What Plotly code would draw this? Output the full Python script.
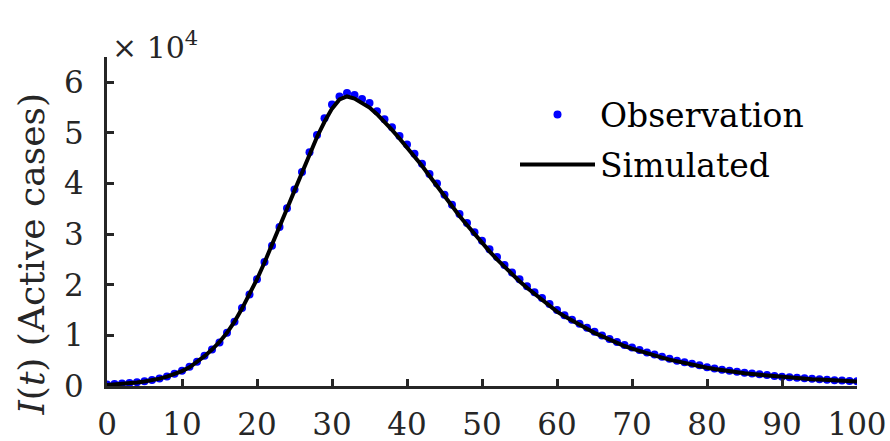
import plotly.graph_objects as go

days = list(range(0, 101))

observed = [
    300, 400, 500, 600, 750, 950, 1200, 1500, 1900, 2400,
    3000, 3800, 4800, 6000, 7200, 8600, 10500, 12700, 15400, 18100,
    21100, 24500, 27700, 31400, 35100, 38800, 42300, 46200, 49600, 52900,
    55600, 57200, 57900, 57500, 56700, 55900, 54300, 52700, 51100, 49400,
    47700, 45900, 43900, 41900, 40000, 37800, 35800, 34000, 32200, 30400,
    28700, 27000, 25500, 23900, 22400, 21100, 19700, 18500, 17400, 16200,
    15000, 14000, 13100, 12300, 11500, 10700, 10000, 9300, 8700, 8100,
    7600, 7100, 6600, 6200, 5800, 5400, 5000, 4700, 4400, 4100,
    3700, 3450, 3200, 3000, 2800, 2600, 2450, 2300, 2150, 2000,
    1850, 1730, 1620, 1520, 1420, 1330, 1240, 1160, 1080, 1010,
    920,
]

simulated = [
    200, 300, 400, 550, 700, 900, 1150, 1450, 1850, 2350,
    2950, 3700, 4700, 5900, 7200, 8700, 10500, 12700, 15300, 18100,
    21100, 24400, 27800, 31400, 35000, 38600, 42200, 45800, 49200, 52200,
    54800, 56600, 57200, 56800, 56000, 55000, 53700, 52200, 50600, 48900,
    47200, 45400, 43500, 41500, 39500, 37400, 35400, 33600, 31800, 30000,
    28300, 26600, 25000, 23500, 22000, 20700, 19400, 18200, 17000, 15900,
    14700, 13800, 12900, 12100, 11300, 10500, 9800, 9100, 8500, 7900,
    7400, 6900, 6400, 6000, 5600, 5200, 4850, 4550, 4250, 3950,
    3600, 3350, 3100, 2900, 2700, 2500, 2350, 2200, 2050, 1900,
    1760, 1650, 1550, 1450, 1350, 1260, 1180, 1100, 1030, 960,
    880,
]

y_tick_vals = [0, 10000, 20000, 30000, 40000, 50000, 60000]
y_tick_text = ["0", "1", "2", "3", "4", "5", "6"]
x_tick_vals = [0, 10, 20, 30, 40, 50, 60, 70, 80, 90, 100]

FONT = "DejaVu Serif"
AXIS_COLOR = "#262626"

fig = go.Figure()
fig.add_trace(go.Scatter(
    x=days, y=observed, mode="markers", name="Observation",
    marker=dict(color="#0000FF", size=8, line=dict(width=0)),
    legendgroup="a",
))
fig.add_trace(go.Scatter(
    x=days, y=simulated, mode="lines", name="Simulated",
    line=dict(color="black", width=4),
    legendgroup="b",
))

fig.update_layout(
    width=890, height=441,
    margin=dict(l=107, r=33, t=57, b=55, autoexpand=False),
    paper_bgcolor="white", plot_bgcolor="white",
    font=dict(family=FONT, size=31, color=AXIS_COLOR),
    showlegend=True,
    legend=dict(
        x=0.544, y=0.91, xanchor="left", yanchor="top",
        bgcolor="rgba(0,0,0,0)", borderwidth=0,
        font=dict(family=FONT, size=33, color="black"),
        itemwidth=75, tracegroupgap=4, traceorder="grouped",
    ),
    xaxis=dict(
        range=[0, 100], tickvals=x_tick_vals, automargin=False,
        showline=True, linecolor=AXIS_COLOR, linewidth=3,
        ticks="inside", ticklen=7, tickwidth=3, tickcolor=AXIS_COLOR,
        showgrid=False, zeroline=False, ticklabelstandoff=9,
        tickfont=dict(family=FONT, size=31, color=AXIS_COLOR),
    ),
    yaxis=dict(
        range=[0, 65000], tickvals=y_tick_vals, ticktext=y_tick_text,
        automargin=False,
        showline=True, linecolor=AXIS_COLOR, linewidth=3,
        ticks="inside", ticklen=7, tickwidth=3, tickcolor=AXIS_COLOR,
        showgrid=False, zeroline=False, ticklabelstandoff=14,
        tickfont=dict(family=FONT, size=31, color=AXIS_COLOR),
    ),
    annotations=[
        dict(
            text="× 10<sup>4</sup>", xref="paper", yref="paper",
            x=0.0, y=1.0, xanchor="left", yanchor="bottom", xshift=3, yshift=-10,
            showarrow=False, font=dict(family=FONT, size=30, color=AXIS_COLOR),
        ),
        dict(
            text="<i>I</i>(<i>t</i>) (Active cases)", xref="paper", yref="paper",
            x=0.0, y=0.40, xanchor="center", yanchor="middle", xshift=-76,
            textangle=-90, showarrow=False,
            font=dict(family=FONT, size=36, color=AXIS_COLOR),
        ),
    ],
)

fig.write_html("out.html")
